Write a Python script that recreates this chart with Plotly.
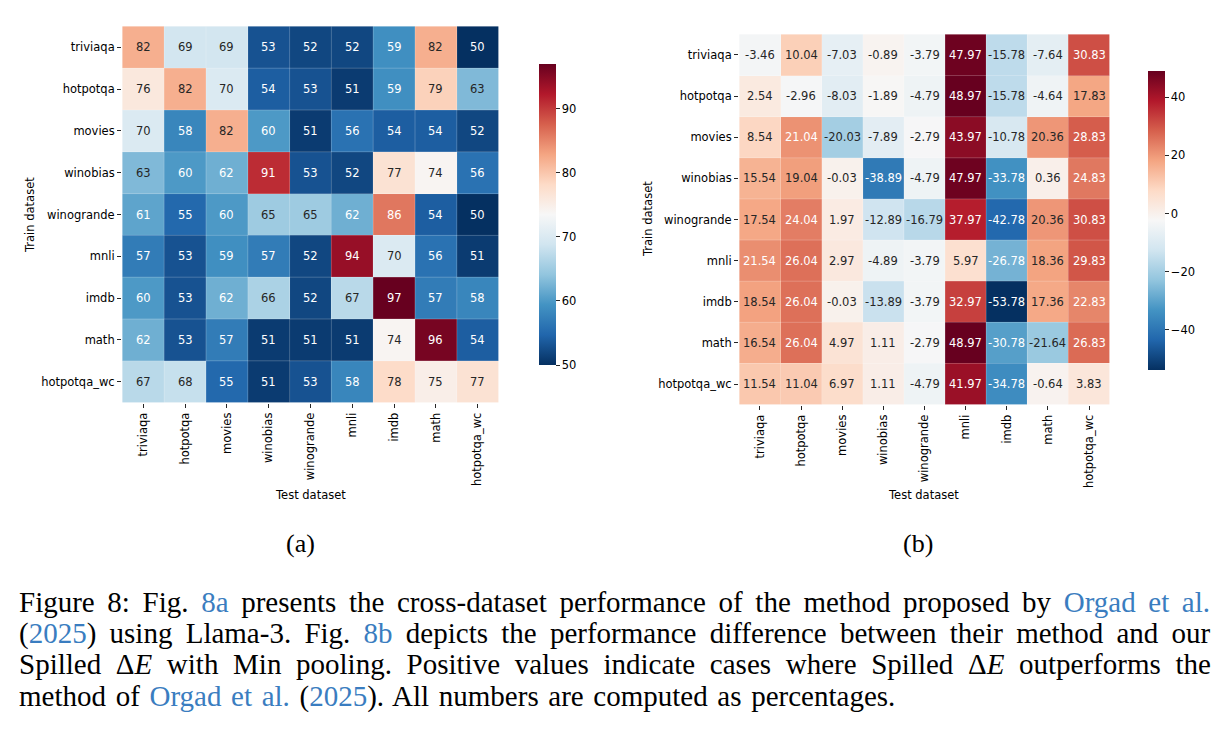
import plotly.graph_objects as go

# ---------------- data ----------------
train_labels = ["triviaqa", "hotpotqa", "movies", "winobias", "winogrande",
                "mnli", "imdb", "math", "hotpotqa_wc"]
test_labels = ["triviaqa", "hotpotqa", "movies", "winobias", "winogrande",
               "mnli", "imdb", "math", "hotpotqa_wc"]

perf_triviaqa = [82, 69, 69, 53, 52, 52, 59, 82, 50]
perf_hotpotqa = [76, 82, 70, 54, 53, 51, 59, 79, 63]
perf_movies = [70, 58, 82, 60, 51, 56, 54, 54, 52]
perf_winobias = [63, 60, 62, 91, 53, 52, 77, 74, 56]
perf_winogrande = [61, 55, 60, 65, 65, 62, 86, 54, 50]
perf_mnli = [57, 53, 59, 57, 52, 94, 70, 56, 51]
perf_imdb = [60, 53, 62, 66, 52, 67, 97, 57, 58]
perf_math = [62, 53, 57, 51, 51, 51, 74, 96, 54]
perf_hotpotqa_wc = [67, 68, 55, 51, 53, 58, 78, 75, 77]

diff_triviaqa = [-3.46, 10.04, -7.03, -0.89, -3.79, 47.97, -15.78, -7.64, 30.83]
diff_hotpotqa = [2.54, -2.96, -8.03, -1.89, -4.79, 48.97, -15.78, -4.64, 17.83]
diff_movies = [8.54, 21.04, -20.03, -7.89, -2.79, 43.97, -10.78, 20.36, 28.83]
diff_winobias = [15.54, 19.04, -0.03, -38.89, -4.79, 47.97, -33.78, 0.36, 24.83]
diff_winogrande = [17.54, 24.04, 1.97, -12.89, -16.79, 37.97, -42.78, 20.36, 30.83]
diff_mnli = [21.54, 26.04, 2.97, -4.89, -3.79, 5.97, -26.78, 18.36, 29.83]
diff_imdb = [18.54, 26.04, -0.03, -13.89, -3.79, 32.97, -53.78, 17.36, 22.83]
diff_math = [16.54, 26.04, 4.97, 1.11, -2.79, 48.97, -30.78, -21.64, 26.83]
diff_hotpotqa_wc = [11.54, 11.04, 6.97, 1.11, -4.79, 41.97, -34.78, -0.64, 3.83]

cbar_a_ticks = [50, 60, 70, 80, 90]
cbar_b_ticks = [-40, -20, 0, 20, 40]

perf = [perf_triviaqa, perf_hotpotqa, perf_movies, perf_winobias, perf_winogrande,
        perf_mnli, perf_imdb, perf_math, perf_hotpotqa_wc]
diff = [diff_triviaqa, diff_hotpotqa, diff_movies, diff_winobias, diff_winogrande,
        diff_mnli, diff_imdb, diff_math, diff_hotpotqa_wc]

# ---------------- style ----------------
W, H = 1225, 732
FONT = "DejaVu Sans"
FS = 11.5
DARK = "#262626"
LINK = "#3a7dc0"

# matplotlib RdBu (colorbrewer 11) reversed
rdbu = [(103, 0, 31), (178, 24, 43), (214, 96, 77), (244, 165, 130), (253, 219, 199),
        (247, 247, 247), (209, 229, 240), (146, 197, 222), (67, 147, 195),
        (33, 102, 172), (5, 48, 97)]
rdbu_r = rdbu[::-1]
n = len(rdbu_r)
colorscale = [[i / (n - 1), "rgb(%d,%d,%d)" % c] for i, c in enumerate(rdbu_r)]


def cmap(t):
    t = min(max(t, 0.0), 1.0)
    pos = t * (n - 1)
    i = min(int(pos), n - 2)
    f = pos - i
    a, b = rdbu_r[i], rdbu_r[i + 1]
    return tuple(a[k] + (b[k] - a[k]) * f for k in range(3))


def rel_lum(c):
    out = []
    for v in c:
        v = v / 255.0
        out.append(v / 12.92 if v <= 0.03928 else ((v + 0.055) / 1.055) ** 2.4)
    return 0.2126 * out[0] + 0.7152 * out[1] + 0.0722 * out[2]


def px_x(p):
    return p / W


def px_y(p):
    return 1 - p / H


fig = go.Figure()

panels = [
    dict(z=perf, fmt="{:.0f}", xa="x", ya="y", cbx=539, cby=(64, 365), ticks=cbar_a_ticks),
    dict(z=diff, fmt="{:.2f}", xa="x2", ya="y2", cbx=1148, cby=(71, 370), ticks=cbar_b_ticks),
]

annotations = []
shapes = []
for p in panels:
    z = p["z"]
    zmin = min(min(r) for r in z)
    zmax = max(max(r) for r in z)
    fig.add_trace(go.Heatmap(
        z=z, x=test_labels, y=train_labels, xaxis=p["xa"], yaxis=p["ya"],
        colorscale=colorscale, zmin=zmin, zmax=zmax,
        colorbar=dict(
            x=px_x(p["cbx"]), xanchor="left", xpad=0, ypad=0,
            y=(px_y(p["cby"][0]) + px_y(p["cby"][1])) / 2, yanchor="middle",
            len=(p["cby"][1] - p["cby"][0]) / H, lenmode="fraction",
            thickness=17, thicknessmode="pixels",
            outlinewidth=0, ticks="outside", ticklen=4, tickwidth=1,
            tickcolor=DARK, tickvals=p["ticks"],
            tickfont=dict(family=FONT, size=FS, color="black"),
        ),
        hoverinfo="skip",
    ))
    for i, row in enumerate(z):
        for j, v in enumerate(row):
            col = cmap((v - zmin) / (zmax - zmin))
            tc = DARK if rel_lum(col) > 0.408 else "white"
            annotations.append(dict(
                x=test_labels[j], y=train_labels[i], xref=p["xa"], yref=p["ya"],
                text=p["fmt"].format(v), showarrow=False,
                xanchor="center", yanchor="middle",
                font=dict(family=FONT, size=FS, color=tc),
            ))
    xr, yr = p["xa"], p["ya"]
    for j in range(1, len(test_labels)):
        shapes.append(dict(type="line", xref=xr, yref=yr, x0=j - 0.5, x1=j - 0.5,
                           y0=-0.5, y1=len(train_labels) - 0.5,
                           line=dict(color="rgba(255,255,255,0.28)", width=0.8)))
    for i in range(1, len(train_labels)):
        shapes.append(dict(type="line", xref=xr, yref=yr, y0=i - 0.5, y1=i - 0.5,
                           x0=-0.5, x1=len(test_labels) - 0.5,
                           line=dict(color="rgba(255,255,255,0.28)", width=0.8)))

axis_common = dict(ticks="outside", ticklen=4, tickwidth=1, tickcolor=DARK,
                   showgrid=False, zeroline=False, showline=False,
                   tickfont=dict(family=FONT, size=FS, color="black"))

fig.update_layout(
    xaxis=dict(domain=[px_x(122), px_x(499)], anchor="y", tickangle=-90, **axis_common),
    yaxis=dict(domain=[px_y(403), px_y(26)], anchor="x", autorange="reversed", **axis_common),
    xaxis2=dict(domain=[px_x(739), px_x(1110)], anchor="y2", tickangle=-90, **axis_common),
    yaxis2=dict(domain=[px_y(405), px_y(34)], anchor="x2", autorange="reversed", **axis_common),
)


def paper_text(tx, ty, text, size, family, angle=0, xanchor="center"):
    return dict(x=px_x(tx), y=px_y(ty), xref="paper", yref="paper",
                xanchor=xanchor, yanchor="middle", text=text, showarrow=False,
                textangle=angle, font=dict(family=family, size=size, color="black"))


for (tx, ty) in [(310, 495), (923, 495)]:
    annotations.append(paper_text(tx, ty, "Test dataset", FS, FONT))
for (tx, ty) in [(30, 215), (648, 219)]:
    annotations.append(paper_text(tx, ty, "Train dataset", FS, FONT, angle=-90))

SERIF = "Liberation Serif"
CFS = 29
for (tx, lab) in [(300, "(a)"), (918, "(b)")]:
    annotations.append(paper_text(tx, 543, lab, 26, SERIF))


def link(s):
    return '<span style="color:%s">%s</span>' % (LINK, s)


caption_lines = [
    "Figure 8: Fig. " + link("8a") + " presents the cross-dataset performance of the method proposed by " + link("Orgad et al."),
    "(" + link("2025") + ") using Llama-3. Fig. " + link("8b") + " depicts the performance difference between their method and our",
    "Spilled Δ<i>E</i> with Min pooling. Positive values indicate cases where Spilled Δ<i>E</i> outperforms the",
    "method of " + link("Orgad et al.") + " (" + link("2025") + "). All numbers are computed as percentages.",
]
word_gap = [5.4, 6.0, 7.4, 2.4]
for ln, ycen, ws in zip(caption_lines, [602, 633, 664, 696], word_gap):
    txt = '<span style="word-spacing:%.1fpx">%s</span>' % (ws, ln)
    annotations.append(paper_text(17, ycen, txt, CFS, SERIF, xanchor="left"))

fig.update_layout(
    width=W, height=H, margin=dict(l=0, r=0, t=0, b=0),
    paper_bgcolor="white", plot_bgcolor="white",
    annotations=annotations, shapes=shapes, showlegend=False,
)

fig.write_html("out.html")
